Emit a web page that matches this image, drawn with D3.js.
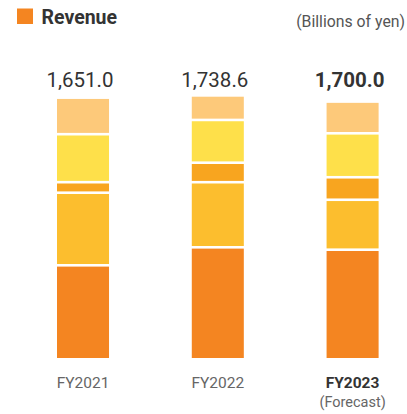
<!DOCTYPE html>
<html>
<head>
<meta charset="utf-8">
<script src="https://cdn.jsdelivr.net/npm/d3@7"></script>
<style>
  body { margin: 0; background: #fff; }
  text { font-family: Roboto, "Noto Sans", sans-serif; }
</style>
</head>
<body>
<svg width="407" height="414"></svg>
<script>
var svg = d3.select('svg');

// data (billions of yen)
var years = ['FY2021', 'FY2022', 'FY2023'];
var totals = ['1,651.0', '1,738.6', '1,700.0'];
var segments = ['s1', 's2', 's3', 's4', 's5']; // bottom to top
var s1 = [618, 738, 722];
var s2 = [484, 434, 333];
var s3 = [70, 130, 150];
var s4 = [320, 285, 293];
var s5 = [235, 155, 203];
var colors = ['#f48521', '#fcbe2e', '#f8a51f', '#fee04a', '#fdc97a'];

var rows = years.map(function(y, i) {
    return {year: y, s1: s1[i], s2: s2[i], s3: s3[i], s4: s4[i], s5: s5[i]};
});
var stack = d3.stack().keys(segments)(rows);

var xScale = d3.scaleBand().domain(years).range([57, 378.6]).paddingInner(0.614).paddingOuter(0);
var yScale = d3.scaleLinear().domain([0, 1000]).range([358, 208]);
var gap = 2.6;

// legend
svg.append('rect')
    .attr('x', 17).attr('y', 8.5)
    .attr('width', 16).attr('height', 15.5)
    .attr('fill', '#f48521');
svg.append('text')
    .attr('x', 41.5).attr('y', 23.5)
    .attr('font-size', 19.5).attr('font-weight', 'bold')
    .attr('fill', '#333')
    .text('Revenue');
svg.append('text')
    .attr('x', 405).attr('y', 26.5)
    .attr('text-anchor', 'end')
    .attr('font-size', 15.8).attr('fill', '#555')
    .text('(Billions of yen)');

// bars
var layers = svg.selectAll('.layer')
    .data(stack)
    .enter()
    .append('g')
    .attr('class', 'layer')
    .attr('fill', function(d, i) { return colors[i]; });

layers.selectAll('rect')
    .data(function(d) { return d; })
    .enter()
    .append('rect')
    .attr('x', function(d) { return xScale(d.data.year); })
    .attr('width', xScale.bandwidth())
    .attr('y', function(d, i, n) {
        var k = d3.select(n[i].parentNode).datum().index;
        return yScale(d[1]) + (k === segments.length - 1 ? 0 : gap / 2);
    })
    .attr('height', function(d, i, n) {
        var k = d3.select(n[i].parentNode).datum().index;
        var h = yScale(d[0]) - yScale(d[1]);
        if (k > 0) h -= gap / 2;
        if (k < segments.length - 1) h -= gap / 2;
        return h;
    });

// totals
svg.selectAll('.total')
    .data(years)
    .enter()
    .append('text')
    .attr('class', 'total')
    .attr('x', function(d) { return xScale(d) + xScale.bandwidth() / 2 - 3; })
    .attr('y', 86.5)
    .attr('text-anchor', 'middle')
    .attr('font-size', 20.5)
    .attr('font-weight', function(d, i) { return i === 2 ? 'bold' : 'normal'; })
    .attr('fill', '#333')
    .text(function(d, i) { return totals[i]; });

// x labels
svg.selectAll('.xlabel')
    .data(years)
    .enter()
    .append('text')
    .attr('class', 'xlabel')
    .attr('x', function(d) { return xScale(d) + xScale.bandwidth() / 2; })
    .attr('y', 387.5)
    .attr('text-anchor', 'middle')
    .attr('font-size', 15.5)
    .attr('font-weight', function(d, i) { return i === 2 ? 'bold' : 'normal'; })
    .attr('fill', function(d, i) { return i === 2 ? '#333' : '#666'; })
    .text(function(d) { return d; });

svg.append('text')
    .attr('x', xScale('FY2023') + xScale.bandwidth() / 2)
    .attr('y', 407)
    .attr('text-anchor', 'middle')
    .attr('font-size', 14.5)
    .attr('fill', '#666')
    .text('(Forecast)');
</script>
</body>
</html>
